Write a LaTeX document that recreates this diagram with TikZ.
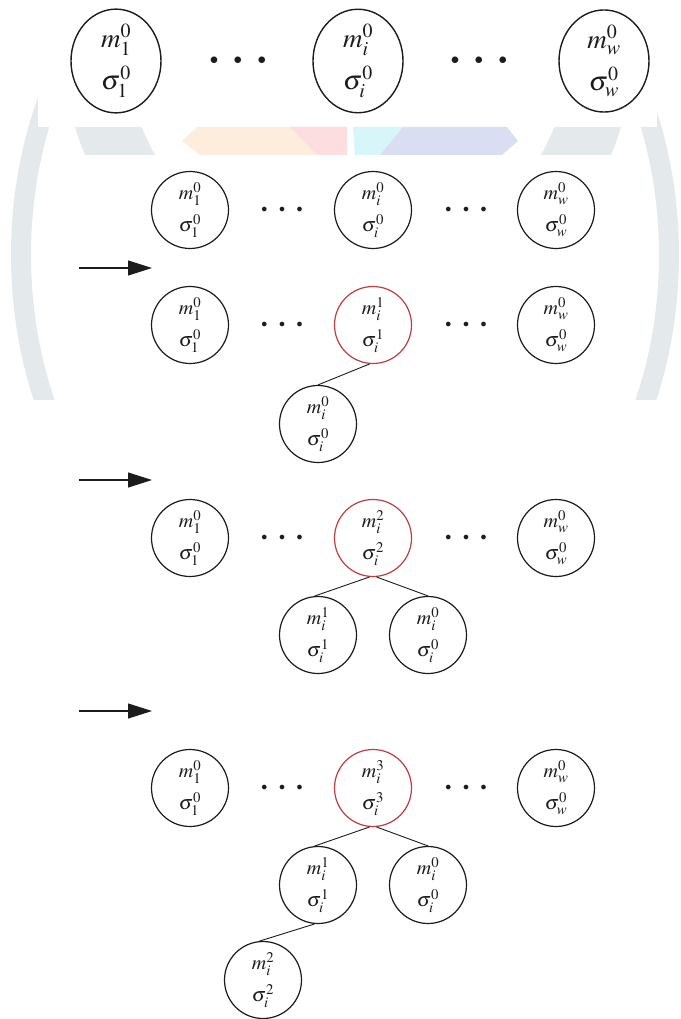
\documentclass[tikz,border=0pt]{standalone}
\usepackage{mathptmx}
\usetikzlibrary{arrows.meta,shapes.geometric}
\definecolor{ink}{RGB}{28,28,28}
\definecolor{nodered}{RGB}{196,60,64}
\definecolor{wmgrey}{RGB}{228,233,235}
\definecolor{wmorange}{RGB}{253,237,221}
\definecolor{wmpink}{RGB}{252,221,224}
\definecolor{wmcyan}{RGB}{214,246,250}
\definecolor{wmblue}{RGB}{217,222,243}

\begin{document}
\begin{tikzpicture}[x=1pt,y=-1pt,
  big/.style={draw=ink, line width=1.4pt, ellipse, minimum width=90pt,
    minimum height=96pt, inner sep=0pt, align=center, text=ink,
    font=\fontsize{27}{42}\selectfont},
  cell/.style={draw=ink, line width=1.2pt, circle, minimum size=77pt,
    inner sep=0pt, align=center, text=ink, font=\fontsize{20}{32}\selectfont},
  hot/.style={cell, draw=nodered},
  bigdots/.style={inner sep=0pt, text=ink, font=\fontsize{17}{17}\selectfont},
  rowdots/.style={inner sep=0pt, text=ink, font=\fontsize{12}{12}\selectfont},
  link/.style={draw=ink, line width=0.9pt},
  nextarrow/.style={draw=ink, line width=1.1pt,
    -{Triangle[length=24pt,width=15pt]}}
]
\useasboundingbox (0,0) rectangle (680,1019);

% faint logo in the background
\fill[wmgrey, even odd rule] (345,255) ellipse [x radius=334, y radius=400]
  (345,255) ellipse [x radius=314, y radius=380];
\fill[wmgrey, even odd rule] (348,45) circle [radius=285]
  (348,45) circle [radius=222];
\fill[white] (38,0) rectangle (657,127);
\fill[white] (68,155) rectangle (625,400);
\fill[white] (0,400) rectangle (680,1019);
\fill[wmorange] (197,127) -- (347,127) -- (347,155) -- (200,155) -- (182,141) -- cycle;
\fill[wmpink] (290,127) -- (347,127) -- (347,155) -- (317,155) -- cycle;
\fill[wmcyan] (353,127) -- (403,127) -- (380,155) -- (355,155) -- cycle;
\fill[wmblue] (403,127) -- (507,127) -- (518,141) -- (502,155) -- (380,155) -- cycle;

% initial forest
\node[big] (t1) at (116,61) {$m_1^0$\\$\sigma_1^0$};
\node[bigdots] (td1) at (238,61) {$\bullet\hspace{13pt}\bullet\hspace{13pt}\bullet$};
\node[big] (ti) at (358,61) {$m_i^0$\\$\sigma_i^0$};
\node[bigdots] (td2) at (479,61) {$\bullet\hspace{13pt}\bullet\hspace{13pt}\bullet$};
\node[big] (tw) at (604,61) {$m_w^0$\\$\sigma_w^0$};

% step 0
\node[cell] (a1) at (190,210) {$m_1^0$\\$\sigma_1^0$};
\node[rowdots] (ad1) at (282,210) {$\bullet\hspace{10pt}\bullet\hspace{10pt}\bullet$};
\node[cell] (ai) at (373,210) {$m_i^0$\\$\sigma_i^0$};
\node[rowdots] (ad2) at (466,210) {$\bullet\hspace{10pt}\bullet\hspace{10pt}\bullet$};
\node[cell] (aw) at (556,210) {$m_w^0$\\$\sigma_w^0$};

\coordinate (p1s) at (79,268);
\coordinate (p1e) at (152,268);
\draw[nextarrow] (p1s) -- (p1e);

% step 1
\node[cell] (b1) at (190,325) {$m_1^0$\\$\sigma_1^0$};
\node[rowdots] (bd1) at (282,325) {$\bullet\hspace{10pt}\bullet\hspace{10pt}\bullet$};
\node[hot] (bi) at (373,325) {$m_i^1$\\$\sigma_i^1$};
\node[rowdots] (bd2) at (466,325) {$\bullet\hspace{10pt}\bullet\hspace{10pt}\bullet$};
\node[cell] (bw) at (556,325) {$m_w^0$\\$\sigma_w^0$};
\node[cell] (bc) at (318,424) {$m_i^0$\\$\sigma_i^0$};
\draw[link] (bi.265) -- (bc.north);

\coordinate (p2s) at (79,480);
\coordinate (p2e) at (152,480);
\draw[nextarrow] (p2s) -- (p2e);

% step 2
\node[cell] (c1) at (190,538) {$m_1^0$\\$\sigma_1^0$};
\node[rowdots] (cd1) at (282,538) {$\bullet\hspace{10pt}\bullet\hspace{10pt}\bullet$};
\node[hot] (ci) at (373,538) {$m_i^2$\\$\sigma_i^2$};
\node[rowdots] (cd2) at (466,538) {$\bullet\hspace{10pt}\bullet\hspace{10pt}\bullet$};
\node[cell] (cw) at (556,538) {$m_w^0$\\$\sigma_w^0$};
\node[cell] (cl) at (318,635) {$m_i^1$\\$\sigma_i^1$};
\node[cell] (cr) at (428,635) {$m_i^0$\\$\sigma_i^0$};
\draw[link] (ci.265) -- (cl.95);
\draw[link] (ci.275) -- (cr.north);

\coordinate (p3s) at (79,711);
\coordinate (p3e) at (152,711);
\draw[nextarrow] (p3s) -- (p3e);

% step 3
\node[cell] (d1) at (190,788) {$m_1^0$\\$\sigma_1^0$};
\node[rowdots] (dd1) at (282,788) {$\bullet\hspace{10pt}\bullet\hspace{10pt}\bullet$};
\node[hot] (di) at (373,788) {$m_i^3$\\$\sigma_i^3$};
\node[rowdots] (dd2) at (466,788) {$\bullet\hspace{10pt}\bullet\hspace{10pt}\bullet$};
\node[cell] (dw) at (556,788) {$m_w^0$\\$\sigma_w^0$};
\node[cell] (dl) at (318,885) {$m_i^1$\\$\sigma_i^1$};
\node[cell] (dr) at (428,885) {$m_i^0$\\$\sigma_i^0$};
\node[cell] (dg) at (263,980) {$m_i^2$\\$\sigma_i^2$};
\draw[link] (di.265) -- (dl.95);
\draw[link] (di.275) -- (dr.north);
\draw[link] (dl.265) -- (dg.95);
\end{tikzpicture}
\end{document}
